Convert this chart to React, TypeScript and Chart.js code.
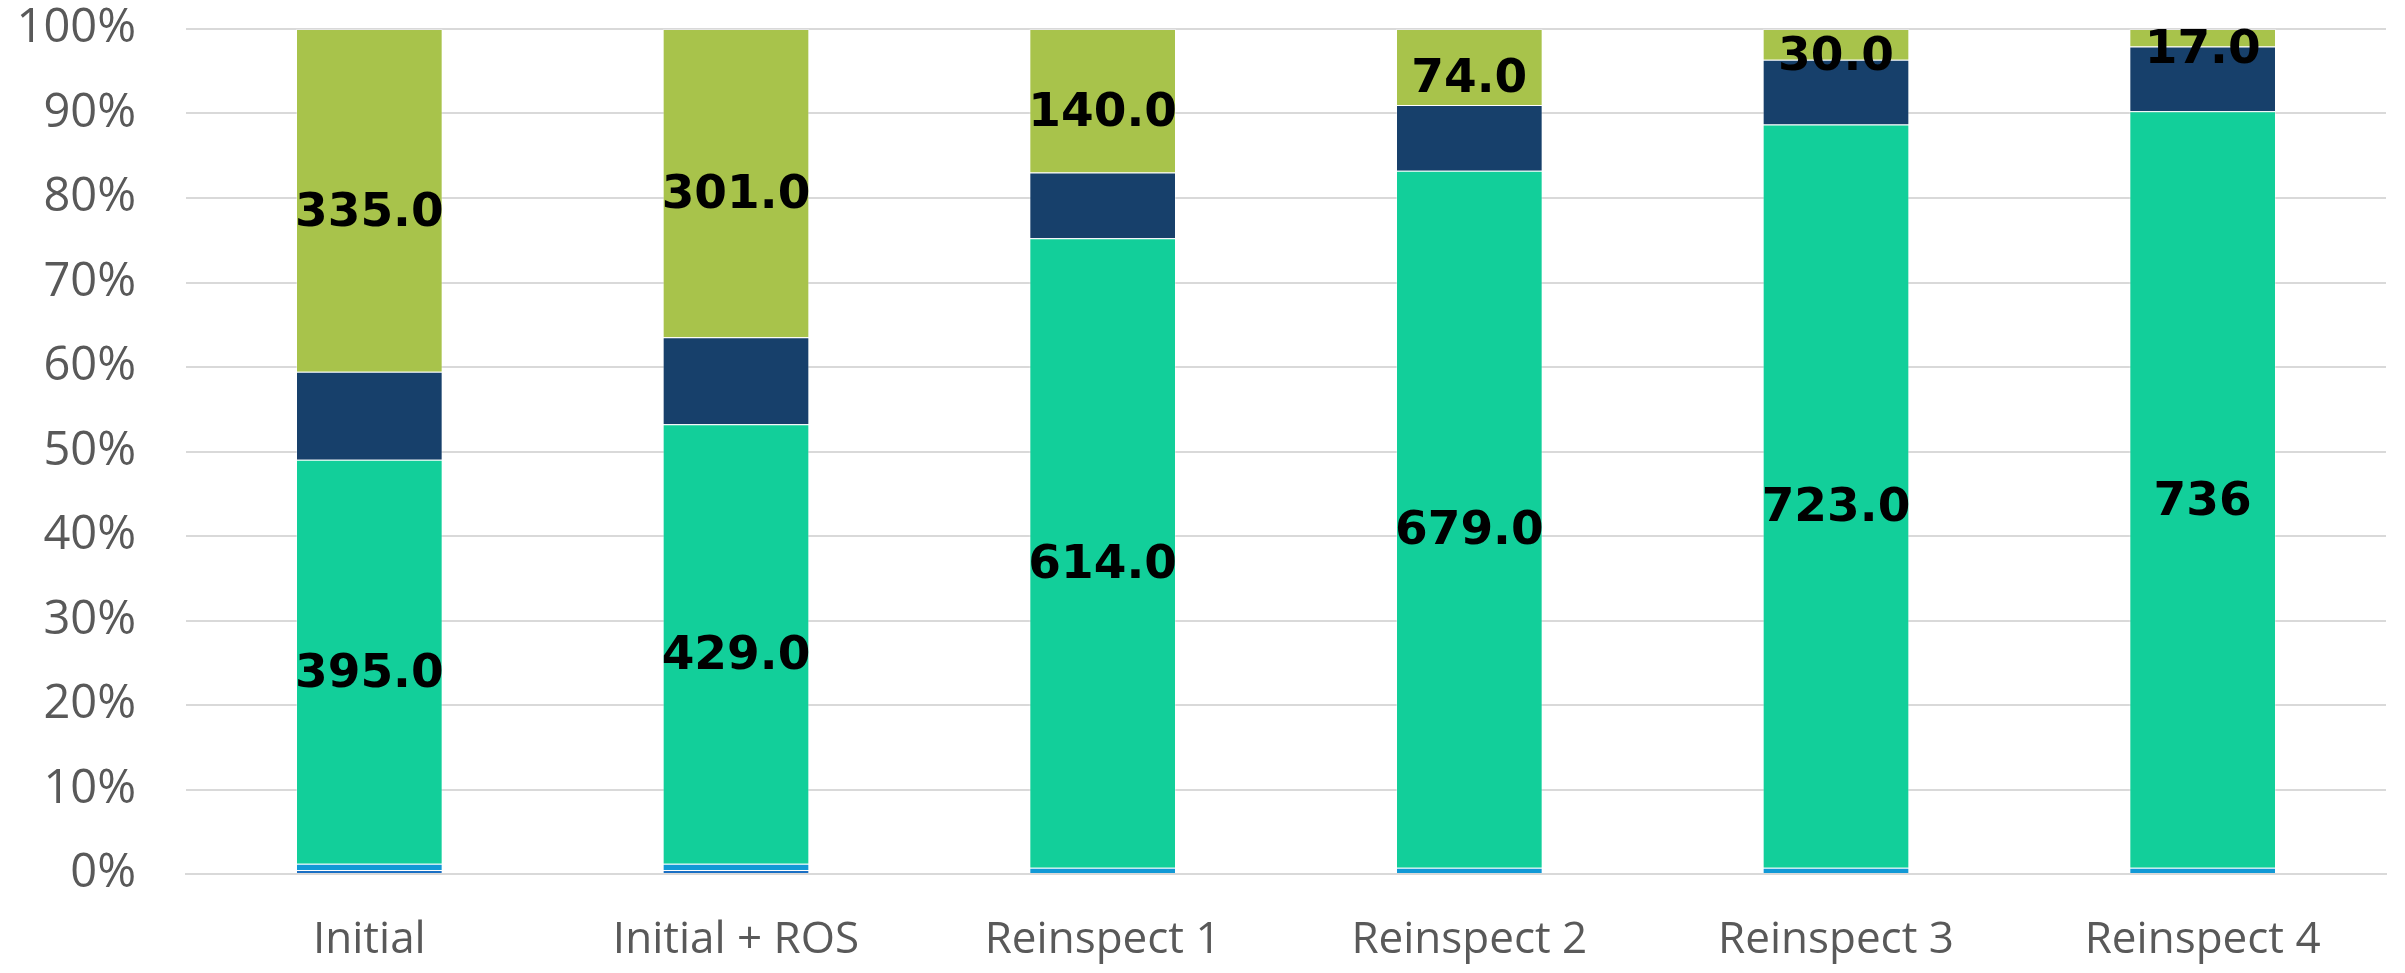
import React, { useEffect, useRef } from "react";
import { Chart, registerables } from "chart.js";

Chart.register(...registerables);

const categories = ["Initial", "Initial + ROS", "Reinspect 1", "Reinspect 2", "Reinspect 3", "Reinspect 4"];
const darkBlueValues = [4, 4, 0, 0, 0, 0];
const lightBlueValues = [6, 6, 6, 6, 6, 6];
const tealValues = [395, 429, 614, 679, 723, 736];
const navyValues = [86, 85, 64, 64, 63, 63];
const greenValues = [335, 301, 140, 74, 30, 17];
const tealLabels = ["395.0", "429.0", "614.0", "679.0", "723.0", "736"];
const greenLabels = ["335.0", "301.0", "140.0", "74.0", "30.0", "17.0"];

const totals = categories.map(
  (_, i) => darkBlueValues[i] + lightBlueValues[i] + tealValues[i] + navyValues[i] + greenValues[i]
);
const pct = (arr: number[]) => arr.map((v, i) => (v / totals[i]) * 100);

const labelPlugin = {
  id: "segLabels",
  afterDatasetsDraw(chart: any) {
    const ctx = chart.ctx;
    const sets: [number, string[]][] = [
      [2, tealLabels],
      [4, greenLabels],
    ];
    ctx.save();
    ctx.font = "bold 47px 'DejaVu Sans'";
    ctx.fillStyle = "#000000";
    ctx.textAlign = "center";
    ctx.textBaseline = "middle";
    for (const [dsIndex, labels] of sets) {
      const meta = chart.getDatasetMeta(dsIndex);
      meta.data.forEach((el: any, i: number) => {
        const { x, y, base } = el.getProps(["x", "y", "base"], true);
        ctx.fillText(labels[i], x, (y + base) / 2 + 13);
      });
    }
    ctx.restore();
  },
};

export default function App() {
  const ref = useRef<HTMLCanvasElement | null>(null);
  useEffect(() => {
    document.body.style.margin = "0";
    document.body.style.overflow = "hidden";
    if (!ref.current) return;
    const border = "rgba(255,255,255,0.35)";
    const chart = new Chart(ref.current, {
      type: "bar",
      data: {
        labels: categories,
        datasets: [
          { label: "A", data: pct(darkBlueValues), backgroundColor: "#1a6fc4", borderColor: border, borderWidth: 1 },
          { label: "B", data: pct(lightBlueValues), backgroundColor: "#1199d6", borderColor: border, borderWidth: 1 },
          { label: "C", data: pct(tealValues), backgroundColor: "#12cf9a", borderColor: border, borderWidth: 1 },
          { label: "D", data: pct(navyValues), backgroundColor: "#17406b", borderColor: border, borderWidth: 1 },
          { label: "E", data: pct(greenValues), backgroundColor: "#a8c34b", borderColor: border, borderWidth: 1 },
        ],
      },
      options: {
        animation: false,
        responsive: false,
        devicePixelRatio: 1,
        layout: { padding: { top: 29, right: 19, left: 0, bottom: 0 } },
        datasets: { bar: { barPercentage: 0.4, categoryPercentage: 1 } },
        plugins: { legend: { display: false }, tooltip: { enabled: false } },
        scales: {
          x: {
            stacked: true,
            grid: { display: false, drawTicks: false },
            border: { display: true, color: "#d9d9d9", width: 2 },
            ticks: {
              color: "#595959",
              font: { family: "'Open Sans'", size: 44 },
              padding: 40,
              maxRotation: 0,
            },
            afterFit: (s: any) => {
              s.height = 99;
              s.paddingLeft = 0;
              s.paddingRight = 0;
            },
          },
          y: {
            stacked: true,
            min: 0,
            max: 100,
            grid: { color: "#d9d9d9", lineWidth: 2, drawTicks: false },
            border: { display: false },
            ticks: {
              stepSize: 10,
              color: "#595959",
              font: { family: "'Open Sans'", size: 47 },
              padding: 50,
              callback: (v: any) => v + "%",
            },
            afterFit: (s: any) => {
              s.width = 186;
              s.paddingTop = 0;
              s.paddingBottom = 0;
            },
          },
        },
      },
      plugins: [labelPlugin],
    });
    return () => chart.destroy();
  }, []);
  return (
    <div style={{ width: 2405, height: 973 }}>
      <canvas ref={ref} width={2405} height={973} style={{ display: "block" }} />
    </div>
  );
}
